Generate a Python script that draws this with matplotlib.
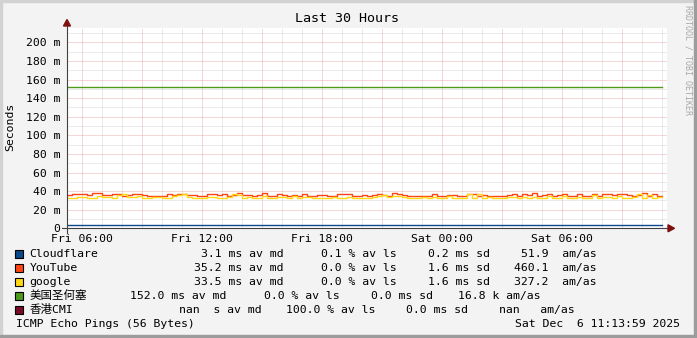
import numpy as np
import matplotlib
matplotlib.use('Agg')
import matplotlib.pyplot as plt
from matplotlib.patches import Rectangle, Polygon
from matplotlib.lines import Line2D

W, H = 697, 338

# ---------------- data ----------------
hosts = ['Cloudflare', 'YouTube', 'google', '美国圣何塞', '香港CMI']
colors = ['#0B4A8A', '#FF4513', '#FFD815', '#4E9A1C', '#7A0A28']

t_start = 5.25   # hours since Fri 00:00
t_step = 0.25

youtube = [35.5, 37.0, 37.0, 36.5, 36.0, 37.5, 37.5, 36.0, 36.0, 37.0, 36.5, 35.0, 35.5, 37.0, 36.5,
           36.0, 34.5, 34.5, 35.0, 35.0, 36.5, 35.5, 36.5, 37.0, 36.0, 35.5, 34.5, 35.0, 37.0, 36.5,
           36.0, 37.0, 35.0, 35.5, 37.5, 36.0, 36.0, 34.5, 36.0, 37.5, 35.0, 35.0, 36.5, 35.5, 35.0,
           36.0, 34.5, 36.5, 35.0, 35.0, 36.0, 35.5, 34.5, 35.0, 37.0, 36.5, 36.5, 35.0, 35.0, 36.0,
           34.5, 35.5, 37.0, 36.0, 35.0, 37.5, 37.0, 36.0, 35.0, 34.5, 34.5, 35.0, 35.0, 36.5, 35.0,
           34.5, 36.0, 35.5, 35.0, 34.5, 37.0, 36.5, 35.0, 36.0, 35.0, 34.5, 35.0, 34.5, 35.5, 36.5,
           35.0, 36.5, 36.0, 37.5, 35.0, 35.5, 36.5, 35.0, 35.5, 37.0, 34.5, 35.0, 36.5, 34.5, 34.5,
           36.5, 35.0, 37.0, 37.0, 35.5, 36.5, 37.0, 36.0, 35.0, 36.0, 37.5, 35.0, 36.5, 35.0]

google = [33.0, 33.0, 34.0, 33.5, 33.0, 33.0, 34.5, 34.0, 33.5, 33.0, 35.5, 36.5, 33.5, 33.5, 35.0,
          33.0, 33.0, 34.0, 33.5, 33.0, 33.0, 34.5, 35.5, 36.5, 33.5, 33.0, 33.0, 32.5, 34.0, 34.0,
          33.0, 32.5, 34.0, 36.5, 35.5, 33.0, 33.5, 32.5, 33.0, 34.5, 33.0, 33.0, 34.0, 33.5, 33.0,
          34.5, 33.0, 33.5, 34.0, 32.5, 33.0, 33.0, 33.0, 34.0, 33.0, 33.0, 33.5, 33.0, 32.5, 33.0,
          33.0, 33.5, 34.5, 35.5, 34.0, 35.0, 35.0, 33.5, 33.0, 33.0, 33.0, 33.5, 33.0, 34.0, 33.0,
          33.0, 34.5, 33.0, 32.5, 33.0, 37.0, 33.0, 36.5, 33.0, 33.5, 33.0, 33.0, 33.0, 34.0, 33.5,
          33.0, 33.5, 33.0, 34.0, 33.0, 33.0, 34.5, 33.0, 33.0, 35.0, 33.0, 33.0, 33.5, 33.0, 33.0,
          35.5, 33.0, 33.5, 34.0, 33.0, 34.5, 33.0, 33.0, 33.5, 36.5, 33.0, 35.5, 33.0, 33.5]

flat_t = [5.25, 35.0]
cloudflare = [3.1, 3.1]
sanjose = [152.0, 152.0]

median_ms = [3.1, 35.2, 33.5, 152.0, np.nan]
loss_pct = [0.1, 0.0, 0.0, 0.0, 100.0]
sd_ms = [0.2, 1.6, 1.6, 0.0, 0.0]
amas = [51.9, 460.1, 327.2, 16800.0, np.nan]

yticks = [0, 20, 40, 60, 80, 100, 120, 140, 160, 180, 200]
ytick_labels = ['0', '20 m', '40 m', '60 m', '80 m', '100 m', '120 m', '140 m', '160 m', '180 m', '200 m']
xticks = [6, 12, 18, 24, 30]
xtick_labels = ['Fri 06:00', 'Fri 12:00', 'Fri 18:00', 'Sat 00:00', 'Sat 06:00']

title = 'Last 30 Hours'
ylabel = 'Seconds'
footer_left = 'ICMP Echo Pings (56 Bytes)'
footer_right = 'Sat Dec  6 11:13:59 2025'
watermark = 'RRDTOOL / TOBI OETIKER'

# ---------------- style ----------------
MONO = 'DejaVu Sans Mono'
FAM = [MONO, 'Noto Sans CJK SC']
FS = 8.25
BG = '#F3F3F3'
MAJOR = '#EBB0B0'
MINOR = '#D6D6D6'


def fx(x):
    return x / W


def fy(y):
    return 1 - y / H


fig = plt.figure(figsize=(W / 100, H / 100), dpi=100, facecolor=BG)

# 3D-ish frame
fig.patches.append(Rectangle((0, 0), 2 / W, 1, transform=fig.transFigure, color='#D2D2D2', zorder=0))
fig.patches.append(Rectangle((0, 1 - 2 / H), 1, 2 / H, transform=fig.transFigure, color='#D2D2D2', zorder=0))
fig.patches.append(Rectangle((1 - 3 / W, 0), 3 / W, 1, transform=fig.transFigure, color='#9C9C9C', zorder=0))
fig.patches.append(Rectangle((0, 0), 1, 3 / H, transform=fig.transFigure, color='#9C9C9C', zorder=0))

x0, x1 = 67, 667
ybot, ytop = 228.3, 28.3
ax = fig.add_axes([fx(x0), fy(ybot), (x1 - x0) / W, (ybot - ytop) / H])
ax.set_facecolor('white')
for s in ax.spines.values():
    s.set_visible(False)
ax.set_xlim(5.233, 35.233)
ax.set_ylim(0, 200 / 0.93)

# grid (dotted lines)
for h in range(6, 36):
    ax.axvline(h, color=MAJOR if h % 3 == 0 else MINOR, lw=0.72, ls=(0, (1, 1)), zorder=1)
for v in range(10, 216, 10):
    ax.axhline(v, color=MAJOR if v % 20 == 0 else MINOR, lw=0.72, ls=(0, (1, 1)), zorder=1)

# series
t = t_start + np.arange(len(youtube)) * t_step
ax.plot(flat_t, cloudflare, color=colors[0], lw=1.0, zorder=3)
ax.step(np.append(t, t[-1] + t_step), youtube + [youtube[-1]], where='post', color=colors[1], lw=1.0, zorder=4)
tg = t_start + np.arange(len(google)) * t_step
ax.step(np.append(tg, tg[-1] + t_step), google + [google[-1]], where='post', color=colors[2], lw=1.0, zorder=5)
ax.plot(flat_t, sanjose, color=colors[3], lw=1.0, zorder=6)

# ticks
ax.set_yticks(yticks)
ax.set_yticklabels(ytick_labels, fontfamily=MONO, fontsize=FS)
ax.set_xticks(xticks)
ax.set_xticklabels(xtick_labels, fontfamily=MONO, fontsize=FS)
ax.tick_params(axis='y', length=0, pad=5.0, colors='#000000')
ax.tick_params(axis='x', length=0, pad=4.2, colors='#000000')

# axis lines with arrows
fig.add_artist(Line2D([fx(62), fx(670)], [fy(ybot), fy(ybot)], transform=fig.transFigure, color='#404040', lw=0.8, zorder=10))
fig.add_artist(Line2D([fx(x0), fx(x0)], [fy(233), fy(24)], transform=fig.transFigure, color='#404040', lw=0.8, zorder=10))
fig.add_artist(Polygon([[fx(668), fy(ybot - 3.5)], [fx(668), fy(ybot + 3.5)], [fx(674.5), fy(ybot)]],
                       closed=True, transform=fig.transFigure, color='#801010', zorder=11))
fig.add_artist(Polygon([[fx(x0 - 3.5), fy(26)], [fx(x0 + 3.5), fy(26)], [fx(x0), fy(19.5)]],
                       closed=True, transform=fig.transFigure, color='#801010', zorder=11))

# titles
fig.text(fx(347), fy(19), title, fontfamily=MONO, fontsize=9.6, ha='center', va='center')
fig.text(fx(10.5), fy(127), ylabel, fontfamily=MONO, fontsize=FS, rotation=90, ha='center', va='center')
fig.text(fx(688), fy(5), watermark, fontfamily=MONO, fontsize=6.0, rotation=270, ha='center', va='top', color='#A8A8A8')

# legend
row_y = [254, 268, 282, 296, 310]
seg_right = [
    [283.3, 396.7, 490.0, 596.7],
    [283.3, 396.7, 490.0, 596.7],
    [283.3, 396.7, 490.0, 596.7],
    [226.7, 339.5, 433.3, 540.0],
    [261.7, 375.0, 468.3, 575.0],
]


def fmt_med(v):
    if np.isnan(v):
        return 'nan  s av md'
    return f'{v:.1f} ms av md'


def fmt_amas(v):
    if np.isnan(v):
        return 'nan   am/as'
    if v >= 1000:
        return f'{v / 1000:.1f} k am/as'
    return f'{v:.1f}  am/as'


for i, name in enumerate(hosts):
    y = row_y[i]
    fig.patches.append(Rectangle((fx(15), fy(y + 4.2)), 8 / W, 8 / H, transform=fig.transFigure,
                                 facecolor=colors[i], edgecolor='black', lw=0.8, zorder=5))
    fig.text(fx(29.5), fy(y), name, fontfamily=FAM, fontsize=FS, ha='left', va='center')
    segs = [fmt_med(median_ms[i]), f'{loss_pct[i]:.1f} % av ls', f'{sd_ms[i]:.1f} ms sd', fmt_amas(amas[i])]
    for s, xr in zip(segs, seg_right[i]):
        fig.text(fx(xr), fy(y), s, fontfamily=FAM, fontsize=FS, ha='right', va='center')

fig.text(fx(16.5), fy(324), footer_left, fontfamily=MONO, fontsize=FS, ha='left', va='center')
fig.text(fx(680), fy(324), footer_right, fontfamily=MONO, fontsize=FS, ha='right', va='center')

fig.savefig('out.png', dpi=100, facecolor=BG)
